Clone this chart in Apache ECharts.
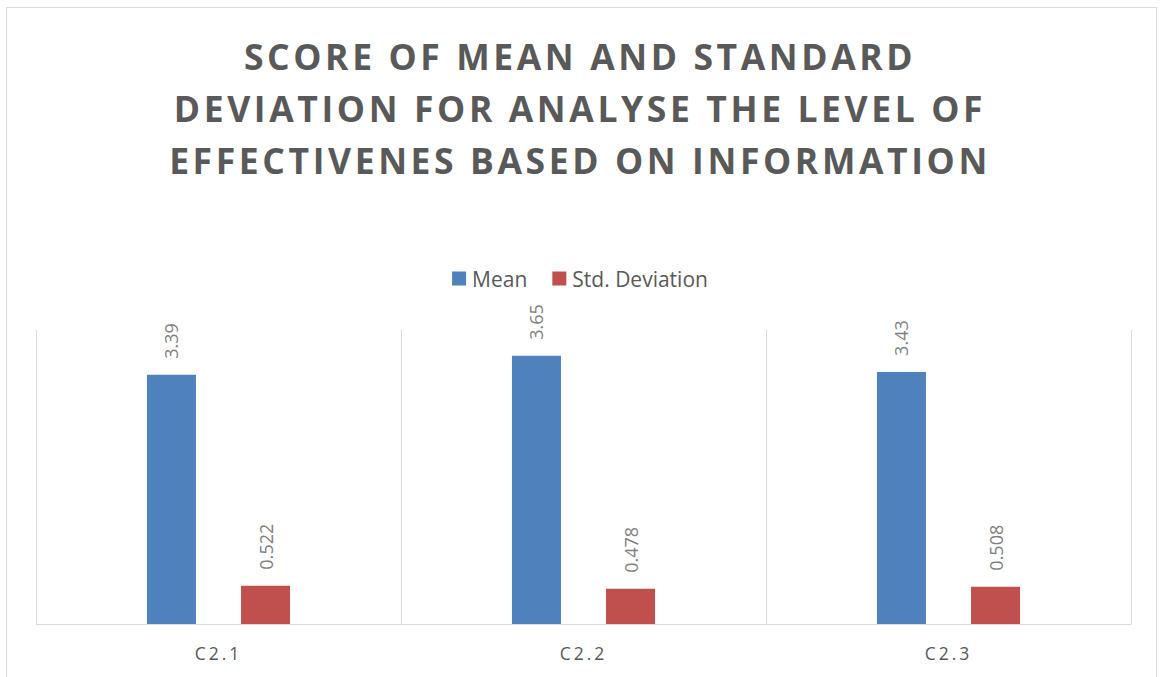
<!DOCTYPE html>
<html><head><meta charset="utf-8">
<script src="https://cdn.jsdelivr.net/npm/echarts@6/dist/echarts.min.js"></script>
<style>
html,body{margin:0;padding:0;background:#fff}#c{width:1160px;height:677px}
#c svg text[style*="35.5px"]{letter-spacing:3.6px}
#c svg text[style*="17.5px"]{letter-spacing:3px}
</style>
</head><body><div id="c"></div>
<script>
const categories = ['C2.1', 'C2.2', 'C2.3'];
const meanValues = [3.39, 3.65, 3.43];
const stdValues = [0.522, 0.478, 0.508];
const seriesNames = ['Mean', 'Std. Deviation'];
const titleText = 'SCORE OF MEAN AND STANDARD\nDEVIATION FOR ANALYSE THE LEVEL OF\nEFFECTIVENES BASED ON INFORMATION';

const chart = echarts.init(document.getElementById('c'), null, { renderer: 'svg' });
const labelCfg = {
  show: true, position: 'top', rotate: 90, align: 'left', verticalAlign: 'middle',
  distance: 16, color: '#7f7f7f', fontSize: 18, fontFamily: 'Open Sans'
};
chart.setOption({
  animation: false,
  graphic: [{
    type: 'rect', shape: { x: 6.5, y: 7.5, width: 1150, height: 690 },
    style: { fill: 'none', stroke: '#d9d9d9', lineWidth: 1 }, silent: true
  }],
  title: {
    text: titleText, left: 'center', top: 25,
    textStyle: { fontFamily: 'Open Sans', fontWeight: 'bold', fontSize: 35.5, lineHeight: 52, color: '#595959' }
  },
  legend: {
    data: seriesNames, top: 263, left: 'center', itemWidth: 14, itemHeight: 14, itemGap: 25,
    icon: 'rect',
    textStyle: { fontFamily: 'Open Sans', fontSize: 21, color: '#595959', padding: [0, 0, 0, 1] }
  },
  grid: { left: 36, right: 29, top: 330, bottom: 53, containLabel: false },
  xAxis: {
    type: 'category', data: categories,
    axisLine: { show: true, lineStyle: { color: '#d9d9d9', width: 1 } },
    axisTick: { show: false },
    splitLine: { show: true, lineStyle: { color: '#d9d9d9', width: 1 } },
    axisLabel: { color: '#595959', fontSize: 17.5, fontFamily: 'Open Sans', margin: 20 }
  },
  yAxis: {
    type: 'value', min: 0, max: 4, interval: 1, show: false, splitLine: { show: false }
  },
  series: [
    { name: seriesNames[0], type: 'bar', data: meanValues, barWidth: 49, barGap: '92%',
      itemStyle: { color: '#4f81bd' }, label: labelCfg },
    { name: seriesNames[1], type: 'bar', data: stdValues, barWidth: 49,
      itemStyle: { color: '#c0504d' }, label: labelCfg }
  ]
});
</script></body></html>
